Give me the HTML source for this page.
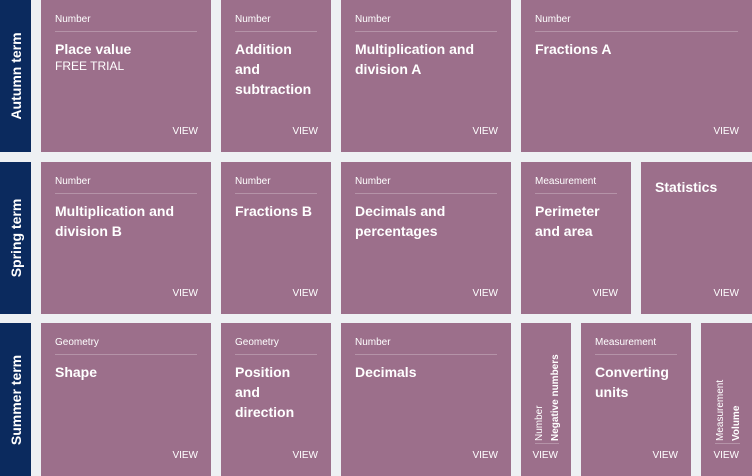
<!DOCTYPE html>
<html><head><style>
body{margin:0;width:752px;height:476px;background:#eef0f3;position:relative;overflow:hidden;font-family:"Liberation Sans",sans-serif;color:#fff}
.n{position:absolute;left:0;width:31px;background:#0b2a5e}
.n span{position:absolute;left:50%;top:50%;transform:translate(-50%,-50%) rotate(-90deg);white-space:nowrap;font-weight:bold;font-size:14px}
.t{position:absolute;background:#9c6f8b}
.l{position:absolute;left:14px;right:14px;top:14px;font-size:10px;padding-bottom:5px;border-bottom:1px solid rgba(255,255,255,.25);height:12px}
.h{position:absolute;left:14px;top:39px;font-size:14px;font-weight:bold;line-height:20px}
.h small{display:block;font-weight:normal;font-size:12px;line-height:14px}
.v{position:absolute;right:13px;bottom:15px;font-size:10px}
.r{position:absolute;white-space:nowrap;transform:rotate(-90deg);transform-origin:0 0;font-size:10px}
</style></head><body>
<div class="n" style="top:0;height:152px"><span>Autumn term</span></div>
<div class="n" style="top:162px;height:152px"><span>Spring term</span></div>
<div class="n" style="top:323px;height:153px"><span>Summer term</span></div>

<div class="t" style="left:41px;top:0;width:170px;height:152px"><div class="l">Number</div><div class="h">Place value<small>FREE TRIAL</small></div><div class="v">VIEW</div></div>
<div class="t" style="left:221px;top:0;width:110px;height:152px"><div class="l">Number</div><div class="h">Addition<br>and<br>subtraction</div><div class="v">VIEW</div></div>
<div class="t" style="left:341px;top:0;width:170px;height:152px"><div class="l">Number</div><div class="h">Multiplication and<br>division A</div><div class="v">VIEW</div></div>
<div class="t" style="left:521px;top:0;width:231px;height:152px"><div class="l">Number</div><div class="h">Fractions A</div><div class="v">VIEW</div></div>

<div class="t" style="left:41px;top:162px;width:170px;height:152px"><div class="l">Number</div><div class="h">Multiplication and<br>division B</div><div class="v">VIEW</div></div>
<div class="t" style="left:221px;top:162px;width:110px;height:152px"><div class="l">Number</div><div class="h">Fractions B</div><div class="v">VIEW</div></div>
<div class="t" style="left:341px;top:162px;width:170px;height:152px"><div class="l">Number</div><div class="h">Decimals and<br>percentages</div><div class="v">VIEW</div></div>
<div class="t" style="left:521px;top:162px;width:110px;height:152px"><div class="l">Measurement</div><div class="h">Perimeter<br>and area</div><div class="v">VIEW</div></div>
<div class="t" style="left:641px;top:162px;width:111px;height:152px"><div class="h" style="top:15px">Statistics</div><div class="v">VIEW</div></div>

<div class="t" style="left:41px;top:323px;width:170px;height:153px"><div class="l">Geometry</div><div class="h">Shape</div><div class="v">VIEW</div></div>
<div class="t" style="left:221px;top:323px;width:110px;height:153px"><div class="l">Geometry</div><div class="h">Position<br>and<br>direction</div><div class="v">VIEW</div></div>
<div class="t" style="left:341px;top:323px;width:170px;height:153px"><div class="l">Number</div><div class="h">Decimals</div><div class="v">VIEW</div></div>
<div class="t" style="left:521px;top:323px;width:50px;height:153px">
 <div class="r" style="left:13px;top:118px">Number</div>
 <div class="r" style="left:29px;top:118px;font-weight:bold">Negative numbers</div>
 <div style="position:absolute;left:14px;right:12px;top:120px;border-top:1px solid rgba(255,255,255,.25)"></div>
 <div class="v">VIEW</div></div>
<div class="t" style="left:581px;top:323px;width:110px;height:153px"><div class="l">Measurement</div><div class="h">Converting<br>units</div><div class="v">VIEW</div></div>
<div class="t" style="left:701px;top:323px;width:51px;height:153px">
 <div class="r" style="left:14px;top:118px">Measurement</div>
 <div class="r" style="left:30px;top:118px;font-weight:bold">Volume</div>
 <div style="position:absolute;left:14px;right:12px;top:120px;border-top:1px solid rgba(255,255,255,.25)"></div>
 <div class="v">VIEW</div></div>
</body></html>
